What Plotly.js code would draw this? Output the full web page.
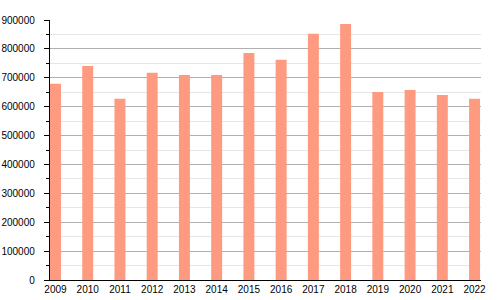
<!DOCTYPE html>
<html>
<head>
<meta charset="utf-8">
<script src="https://cdn.plot.ly/plotly-3.0.1.min.js"></script>
<style>html,body{margin:0;padding:0;background:#fff}#chart{width:500px;height:300px}</style>
</head>
<body>
<div id="chart"></div>
<script>
const years = [2009, 2010, 2011, 2012, 2013, 2014, 2015, 2016, 2017, 2018, 2019, 2020, 2021, 2022];
const values = [679000, 741000, 627000, 717000, 710000, 710000, 786000, 762000, 852000, 886000, 651000, 658000, 640000, 627000];
const yTicks = [0, 100000, 200000, 300000, 400000, 500000, 600000, 700000, 800000, 900000];

const trace = {
  type: 'bar',
  x: years,
  y: values,
  width: 0.34,
  marker: {color: '#fd9a7f', line: {width: 0}},
  hoverinfo: 'x+y'
};

const layout = {
  width: 500, height: 300,
  margin: {l: 50, r: 19, t: 20, b: 20, pad: 0},
  paper_bgcolor: '#fff', plot_bgcolor: '#fff',
  showlegend: false,
  font: {family: '"Liberation Sans", Arial, sans-serif', size: 10, color: '#000'},
  xaxis: {
    type: 'linear',
    range: [2008.83, 2022.2],
    tickvals: years,
    ticktext: years.map(String),
    showgrid: false, zeroline: false,
    showline: true, linecolor: '#000', linewidth: 1.2,
    ticks: '', fixedrange: true
  },
  yaxis: {
    range: [0, 900000],
    tickvals: yTicks,
    ticktext: yTicks.map(String),
    showgrid: true, gridcolor: '#b0b0b0', gridwidth: 1,
    zeroline: false,
    showline: true, linecolor: '#000', linewidth: 1.2,
    ticks: 'outside', ticklen: 5, tickcolor: '#000', tickwidth: 1,
    ticklabelstandoff: 7,
    minor: {dtick: 50000, showgrid: true, gridcolor: '#e6e6e6', ticks: 'outside', ticklen: 3, tickcolor: '#000'},
    fixedrange: true
  }
};

Plotly.newPlot('chart', [trace], layout, {displayModeBar: false, staticPlot: true});
</script>
</body>
</html>
